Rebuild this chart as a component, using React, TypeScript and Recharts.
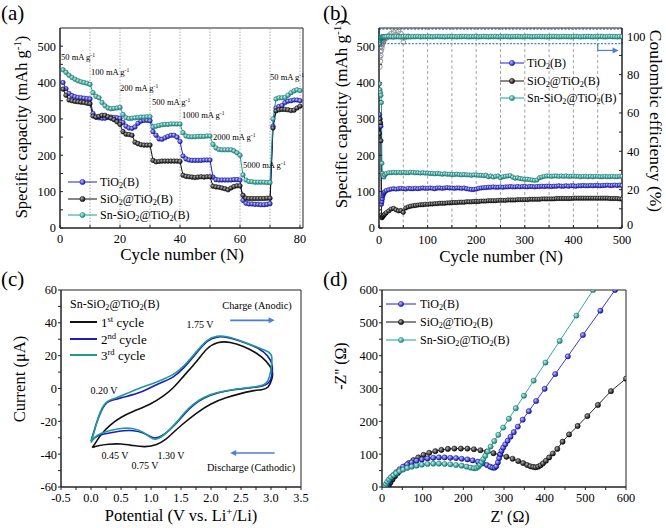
import React from "react";
import {
  LineChart,
  Line,
  XAxis,
  YAxis,
  ReferenceLine,
  ReferenceArea,
  ReferenceDot,
} from "recharts";

// ── shared look ────────────────────────────────────────────────────────────
const FONT = "Liberation Serif, DejaVu Serif, Noto Serif, serif";
const BLUE = "#1f22d2";
const BLACK = "#111111";
const TEAL = "#17a094";
const ARROW = "#4a7fd8";
const FRAME = "#222";

const tickStyle = { fontFamily: FONT, fontSize: 12.3, fill: "#000", style: { fontFamily: FONT } };
const axisLine = { stroke: FRAME, strokeWidth: 1 };
const tickLine = { stroke: FRAME, strokeWidth: 1 };

// ── (a) rate capability ────────────────────────────────────────────────────
const cyclesA = [
  1, 2, 3, 4, 5, 6, 7, 8, 9, 10, 11, 12, 13, 14, 15, 16, 17, 18, 19, 20,
  21, 22, 23, 24, 25, 26, 27, 28, 29, 30, 31, 32, 33, 34, 35, 36, 37, 38, 39, 40,
  41, 42, 43, 44, 45, 46, 47, 48, 49, 50, 51, 52, 53, 54, 55, 56, 57, 58, 59, 60,
  61, 62, 63, 64, 65, 66, 67, 68, 69, 70, 71, 72, 73, 74, 75, 76, 77, 78, 79, 80,
];
const tio2A = [
  400, 383, 370, 364, 361, 359, 358, 357, 356, 355,
  315, 305, 303, 302, 302, 304, 305, 304, 303, 302,
  290, 280, 275, 274, 278, 288, 294, 296, 296, 295,
  265, 255, 245, 244, 248, 252, 255, 255, 250, 238,
  198, 190, 187, 186, 186, 186, 186, 187, 187, 187,
  140, 133, 132, 132, 132, 132, 132, 133, 133, 132,
  76, 68, 66, 66, 65, 65, 64, 64, 65, 67,
  280, 330, 334, 337, 345, 349, 350, 352, 352, 350,
];
const sio2A = [
  382, 365, 352, 350, 348, 347, 346, 345, 343, 342,
  308, 305, 307, 310, 310, 306, 302, 298, 292, 285,
  265, 258, 257, 255, 236, 232, 229, 228, 228, 228,
  186, 182, 183, 184, 184, 184, 184, 184, 184, 183,
  145, 142, 141, 140, 139, 140, 141, 140, 141, 141,
  115, 113, 112, 110, 108, 105, 110, 114, 116, 116,
  90, 82, 81, 81, 81, 81, 81, 81, 82, 82,
  275, 322, 325, 326, 326, 325, 323, 324, 330, 335,
];
const snA = [
  435, 428, 420, 414, 409, 405, 402, 400, 398, 395,
  372, 362, 358, 345, 336, 330, 328, 329, 330, 332,
  312, 303, 301, 302, 303, 304, 305, 305, 306, 306,
  278, 280, 282, 284, 285, 285, 286, 286, 286, 286,
  262, 253, 251, 251, 251, 252, 252, 252, 253, 253,
  230, 220, 216, 215, 215, 215, 215, 212, 207, 200,
  146, 132, 128, 127, 126, 126, 126, 126, 125, 125,
  300, 355, 358, 358, 359, 365, 372, 377, 380, 378,
];
const rateSteps = [10, 20, 30, 40, 50, 60, 70, 80];
const rateLabels = [
  "50", "100", "200", "500", "1000", "2000", "5000", "50",
];

// ── (b) long cycling ───────────────────────────────────────────────────────
const cyclesB = [
  1, 2, 3, 4, 5, 6, 7, 8, 9, 10, 12, 15,
  20, 25, 30, 35, 40, 45, 50, 55, 60, 65, 70, 75, 80, 85, 90, 95, 100,
  105, 110, 115, 120, 125, 130, 135, 140, 145, 150,
  155, 160, 165, 170, 175, 180, 185, 190, 195, 200,
  205, 210, 215, 220, 225, 230, 235, 240, 245, 250,
  255, 260, 265, 270, 275, 280, 285, 290, 295, 300,
  305, 310, 315, 320, 325, 330, 335, 340, 345, 350,
  355, 360, 365, 370, 375, 380, 385, 390, 395, 400,
  405, 410, 415, 420, 425, 430, 435, 440, 445, 450,
  455, 460, 465, 470, 475, 480, 485, 490, 495, 500,
];
const tio2B = [
  312, 300, 285, 280, 65, 72, 80, 88, 93, 97, 100, 103,
  105, 107, 108, 107, 108, 109, 108, 107, 109, 108, 108, 109, 108, 109, 110, 109, 109,
  110, 109, 108, 110, 110, 109, 110, 111, 110, 110,
  109, 110, 110, 109, 110, 108, 107, 106, 106, 107,
  109, 110, 111, 111, 112, 112, 113, 112, 112, 113,
  112, 113, 113, 114, 113, 113, 114, 113, 114, 114,
  113, 114, 114, 113, 114, 114, 115, 114, 115, 115,
  114, 115, 115, 116, 115, 115, 116, 115, 116, 116,
  115, 116, 116, 117, 116, 116, 117, 116, 117, 117,
  116, 117, 117, 118, 117, 117, 118, 117, 118, 117,
];
const sio2B = [
  260, 300, 290, 240, 35, 28, 30, 32, 34, 36, 38, 42,
  47, 52, 54, 50, 47, 48, 43, 55, 58, 60, 61, 62, 63, 64, 64, 65, 65,
  66, 66, 67, 67, 68, 68, 68, 69, 69, 70,
  70, 70, 71, 71, 71, 72, 72, 72, 73, 73,
  73, 74, 74, 74, 75, 75, 75, 75, 76, 76,
  76, 76, 77, 77, 77, 77, 78, 78, 78, 78,
  78, 79, 79, 79, 79, 79, 80, 80, 80, 80,
  80, 80, 81, 81, 81, 81, 81, 81, 81, 82,
  82, 82, 82, 82, 82, 82, 82, 82, 82, 82,
  82, 82, 82, 82, 81, 81, 81, 81, 80, 80,
];
const snB = [
  397, 380, 372, 365, 345, 178, 150, 145, 142, 140, 146, 150,
  152, 152, 153, 152, 153, 152, 153, 152, 152, 153, 153, 152, 152, 151, 152, 151, 151,
  150, 150, 149, 150, 149, 148, 149, 148, 148, 147,
  147, 148, 147, 146, 147, 146, 146, 145, 146, 146,
  145, 145, 144, 145, 141, 143, 140, 142, 143, 138,
  141, 142, 143, 144, 140, 137, 138, 136, 135, 134,
  134, 133, 132, 131, 132, 138, 140, 142, 143, 143,
  142, 143, 143, 142, 143, 142, 143, 142, 142, 143,
  142, 142, 141, 142, 142, 141, 142, 141, 142, 142,
  141, 141, 142, 141, 141, 142, 141, 141, 142, 142,
];
// Coulombic efficiency (%)
const ceSnB = [
  96.5, 98.0, 98.8, 99.2, 99.4, 99.5, 99.6, 99.6, 99.7, 99.7, 99.8, 99.8,
  99.9, 99.8, 99.7, 99.9, 99.8, 99.7, 99.8, 99.9, 99.8, 99.7, 99.8, 99.8, 99.9, 99.7, 99.8, 99.8, 99.9,
  99.8, 99.7, 99.8, 99.9, 99.8, 99.8, 99.7, 99.8, 99.9, 99.8,
  99.8, 99.7, 99.8, 99.8, 99.9, 99.8, 99.7, 99.8, 99.8, 99.9,
  99.7, 99.8, 99.9, 99.8, 99.7, 99.8, 99.8, 99.9, 99.7, 99.8,
  99.8, 99.9, 99.8, 99.7, 99.8, 99.8, 99.9, 99.8, 99.7, 99.8,
  99.9, 99.8, 99.7, 99.8, 99.8, 99.9, 99.8, 99.8, 99.7, 99.8,
  99.8, 99.9, 99.8, 99.7, 99.8, 99.9, 99.8, 99.8, 99.7, 99.8,
  99.9, 99.8, 99.7, 99.8, 99.8, 99.9, 99.8, 99.7, 99.8, 99.8,
  99.9, 99.8, 99.7, 99.8, 99.9, 99.8, 99.8, 99.7, 99.8, 99.8,
];
// early cycles only (cycles 1 … 60 of cyclesB), hollow markers
const ceSiO2Early = [
  null, 84, 87, 90, 92.5, 94, 95.5, 96.5, 97, 97.5, 98.5, 99,
  100.5, 101.5, 102.3, 102.8, 102.5, 101.5, 97, 99.5, 100,
];
const ceTiO2Early = [
  null, 89, 92, 94.5, 96, 97, 97.8, 98.3, 98.7, 99, 99.3, 99.5,
  99.6, 99.7, 99.6, 99.7, 99.8, 99.7, 99.6, 99.7, 99.8,
];

// ── (c) cyclic voltammetry ─────────────────────────────────────────────────
const cv1V = [0.02, 0.08, 0.16, 0.32, 0.49, 0.71, 0.99, 1.21, 1.38, 1.54, 1.77, 1.93, 2.1, 2.32, 2.54, 2.76, 2.93, 3.04, 3.02, 2.96, 2.85, 2.7, 2.5, 2.25, 2.0, 1.75, 1.5, 1.35, 1.25, 1.1, 0.9, 0.7, 0.5, 0.3, 0.1, 0.02];
const cv1I = [-36, -33, -28, -22, -17.5, -13.8, -9.8, -4.7, 0.4, 7.5, 16.7, 24.8, 28.5, 28.5, 25.8, 21.8, 16.7, 10.6, 6, 0, -0.8, -1.2, -3, -5.5, -9, -15, -22.5, -27.5, -31, -34.5, -35.8, -34.8, -33.6, -33.8, -34.8, -36];
const cv2V = [0.0, 0.05, 0.1, 0.16, 0.22, 0.3, 0.41, 0.6, 0.82, 1.04, 1.2, 1.38, 1.54, 1.77, 1.93, 2.1, 2.27, 2.54, 2.82, 2.95, 3.03, 3.02, 2.98, 2.88, 2.65, 2.38, 2.1, 1.88, 1.71, 1.57, 1.43, 1.29, 1.18, 1.07, 0.99, 0.88, 0.71, 0.54, 0.38, 0.21, 0.1, 0.03, 0.0];
const cv2I = [-32, -26, -20, -14.5, -10, -7.5, -6.7, -4.7, -2.6, 1.5, 4, 6.9, 12, 22.2, 29.3, 31.8, 31.4, 28.3, 24.2, 20, 15, 8, 3.5, 1.4, 0.4, -0.6, -2.6, -5.7, -9.8, -14.8, -21, -26, -29.1, -30.5, -29.5, -27, -25.4, -25.6, -26.6, -27.7, -28.8, -31, -32];
const cv3V = [0.0, 0.05, 0.1, 0.16, 0.22, 0.3, 0.41, 0.6, 0.82, 1.04, 1.2, 1.38, 1.54, 1.77, 1.93, 2.1, 2.27, 2.54, 2.82, 2.95, 3.03, 3.0, 2.95, 2.88, 2.65, 2.38, 2.1, 1.88, 1.71, 1.57, 1.43, 1.29, 1.18, 1.07, 0.99, 0.88, 0.71, 0.54, 0.38, 0.21, 0.1, 0.03, 0.0];
const cv3I = [-33, -27, -20, -13.5, -9.5, -7, -6, -3, 0.5, 3, 5.5, 8.5, 13, 23, 30, 32.3, 31.8, 28.5, 24.5, 22.5, 21, 10, 4, 1.8, 0.5, -0.5, -2.3, -5.2, -9.2, -14, -20.5, -26, -29.5, -31.5, -30, -26.5, -24.2, -24, -25, -26.5, -28.5, -31, -33];

// ── (d) Nyquist plots ──────────────────────────────────────────────────────
const tiRe = [10, 13, 17, 22, 28, 35, 43, 52, 62, 73, 85, 98, 112, 126, 140, 154, 168, 182, 196, 210, 223, 236, 248, 258, 266, 272, 277, 281, 285, 288, 291, 294, 298, 303, 309, 316, 324, 334, 346, 361, 379, 400, 426, 457, 494, 537, 573];
const tiIm = [3, 10, 18, 27, 36, 45, 54, 62, 69, 75, 80, 84, 87, 89, 90, 90, 89, 88, 86, 84, 81, 77, 72, 67, 62, 59, 59, 63, 75, 88, 100, 110, 120, 130, 141, 153, 167, 184, 205, 231, 262, 299, 344, 398, 463, 537, 600];
const siRe = [14, 17, 21, 26, 32, 39, 47, 56, 66, 77, 89, 102, 116, 131, 146, 162, 178, 194, 210, 226, 242, 258, 274, 290, 306, 321, 335, 347, 357, 365, 372, 378, 384, 390, 396, 403, 411, 420, 431, 444, 460, 481, 505, 531, 563, 600];
const siIm = [0, 6, 14, 23, 33, 43, 53, 63, 73, 82, 90, 98, 104, 109, 113, 116, 117, 117, 117, 115, 112, 108, 103, 98, 92, 86, 79, 73, 67, 63, 61, 60, 62, 66, 72, 80, 90, 102, 116, 138, 160, 186, 216, 250, 292, 330];
const snRe = [8, 10, 13, 17, 22, 28, 35, 43, 52, 62, 73, 85, 98, 112, 126, 140, 154, 168, 182, 196, 208, 218, 226, 232, 237, 241, 245, 249, 254, 260, 267, 276, 286, 298, 312, 329, 349, 373, 402, 437, 478, 519];
const snIm = [3, 9, 16, 23, 30, 36, 42, 48, 53, 58, 62, 65, 68, 70, 71, 71, 70, 69, 67, 65, 62, 59, 57, 58, 62, 68, 76, 85, 95, 108, 123, 140, 159, 181, 208, 240, 278, 324, 379, 445, 522, 600];

// ── helpers ────────────────────────────────────────────────────────────────
const zip = (xs: number[], ys: number[]) => xs.map((x, i) => ({ x, y: ys[i] }));
const every = (step: number, dec = 0) => (v: number) =>
  Math.abs(v / step - Math.round(v / step)) < 1e-6 ? v.toFixed(dec) : "";

// inward ticks for the top row, outward for the bottom row (as in the figure)
const inX = { tickSize: -3, tickMargin: 9 };
const inY = { tickSize: -3, tickMargin: 7 };
const outX = { tickSize: 3, tickMargin: 3 };
const outY = { tickSize: 3, tickMargin: 1 };

// right-hand CE axis of (b): the "0" sits a little higher so it clears "500"
function CeTick(p: any) {
  const v = p.payload.value;
  const label = v % 20 === 0 ? String(v) : "";
  return (
    <text
      x={p.x}
      y={p.y - (v === 0 ? 3 : 0)}
      dy="0.355em"
      textAnchor="start"
      fontFamily={FONT}
      fontSize={12.3}
      fill="#000"
    >
      {label}
    </text>
  );
}

function BallDefs({ id }: { id: string }) {
  const g = (name: string, light: string, dark: string) => (
    <radialGradient id={`${id}-${name}`} cx="35%" cy="35%" r="70%">
      <stop offset="0%" stopColor={light} />
      <stop offset="100%" stopColor={dark} />
    </radialGradient>
  );
  return (
    <defs>
      {g("blue", "#c4c4ff", "#0a0aa8")}
      {g("black", "#b0b0b0", "#000000")}
      {g("teal", "#c4f1ec", "#0c7d74")}
    </defs>
  );
}

const ball = (id: string, name: string, edge: string, r: number) => ({
  r,
  fill: `url(#${id}-${name})`,
  stroke: edge,
  strokeWidth: 0.5,
});

function arrowHead(dir: number, color: string) {
  return (p: any) => (
    <polygon
      points={`${p.cx},${p.cy} ${p.cx - dir * 6},${p.cy - 3} ${p.cx - dir * 6},${p.cy + 3}`}
      fill={color}
    />
  );
}

function Txt({
  x, y, size, children, rotate = 0, anchor = "middle", color = "#000",
}: any) {
  const tx = anchor === "middle" ? "-50%" : anchor === "end" ? "-100%" : "0";
  return (
    <div
      style={{
        position: "absolute",
        left: x,
        top: y,
        fontFamily: FONT,
        fontSize: size,
        color,
        lineHeight: 1,
        whiteSpace: "nowrap",
        transform: `translate(${tx},-50%)${rotate ? ` rotate(${rotate}deg)` : ""}`,
      }}
    >
      {children}
    </div>
  );
}

const Sub = ({ children }: any) => (
  <span style={{ fontSize: "0.68em", verticalAlign: "-0.28em", lineHeight: 0 }}>{children}</span>
);
const Sup = ({ children }: any) => (
  <span style={{ fontSize: "0.66em", verticalAlign: "0.5em", lineHeight: 0 }}>{children}</span>
);
const TiO2 = () => <>TiO<Sub>2</Sub>(B)</>;
const SiO2 = () => <>SiO<Sub>2</Sub>@TiO<Sub>2</Sub>(B)</>;
const SnSiO2 = () => <>Sn-SiO<Sub>2</Sub>@TiO<Sub>2</Sub>(B)</>;

function LegendRow({ x1, x2, y, color, fill, textX, size, children, marker = true, lw = 1 }: any) {
  return (
    <>
      <svg
        style={{ position: "absolute", left: x1, top: y - 5, overflow: "visible" }}
        width={x2 - x1}
        height={10}
      >
        <line x1={0} y1={5} x2={x2 - x1} y2={5} stroke={color} strokeWidth={lw} />
        {marker && (
          <circle cx={(x2 - x1) / 2} cy={5} r={2.6} fill={fill} stroke={color} strokeWidth={0.6} />
        )}
      </svg>
      <Txt x={textX} y={y} size={size} anchor="start">{children}</Txt>
    </>
  );
}

// ── panels ─────────────────────────────────────────────────────────────────
function PanelA() {
  const rows = cyclesA.map((c, i) => ({ cycle: c, tio2: tio2A[i], sio2: sio2A[i], sn: snA[i] }));
  return (
    <div style={{ position: "absolute", left: 0, top: 0 }}>
      <LineChart width={333} height={264} data={rows} margin={{ top: 28, right: 30, bottom: 0, left: 0 }}>
        <BallDefs id="a" />
        <XAxis
          type="number" dataKey="cycle" domain={[0, 81]} allowDataOverflow
          ticks={[0, 10, 20, 30, 40, 50, 60, 70, 80]} tickFormatter={every(20)} interval={0}
          height={36} tick={tickStyle} axisLine={axisLine} tickLine={tickLine} {...inX}
        />
        <YAxis
          domain={[0, 550]} allowDataOverflow
          ticks={[0, 50, 100, 150, 200, 250, 300, 350, 400, 450, 500]} tickFormatter={every(100)} interval={0}
          width={60} tick={tickStyle} axisLine={axisLine} tickLine={tickLine} {...inY}
        />
        {rateSteps.map((s) => (
          <ReferenceLine key={s} x={s} stroke="#9a9a9a" strokeWidth={0.8} strokeDasharray="1.5 1.5" />
        ))}
        <Line dataKey="tio2" stroke={BLUE} strokeWidth={1} dot={ball("a", "blue", "#0a0a90", 2.3)} isAnimationActive={false} />
        <Line dataKey="sio2" stroke={BLACK} strokeWidth={1} dot={ball("a", "black", "#000", 2.3)} isAnimationActive={false} />
        <Line dataKey="sn" stroke={TEAL} strokeWidth={1} dot={ball("a", "teal", "#0c6f67", 2.3)} isAnimationActive={false} />
        <ReferenceArea x1={0} x2={81} y1={0} y2={550} fill="none" stroke={FRAME} strokeWidth={1} ifOverflow="visible" />
      </LineChart>
    </div>
  );
}

function PanelB() {
  const rows = cyclesB.map((c, i) => ({
    cycle: c,
    tio2: tio2B[i],
    sio2: sio2B[i],
    sn: snB[i],
    ceSn: ceSnB[i],
    ceSi: i < ceSiO2Early.length ? ceSiO2Early[i] : null,
    ceTi: i < ceTiO2Early.length ? ceTiO2Early[i] : null,
  }));
  return (
    <div style={{ position: "absolute", left: 333, top: 0 }}>
      <LineChart width={333} height={264} data={rows} margin={{ top: 28, right: 0, bottom: 0, left: 0 }}>
        <BallDefs id="b" />
        <XAxis
          type="number" dataKey="cycle" domain={[0, 500]} allowDataOverflow
          ticks={[0, 50, 100, 150, 200, 250, 300, 350, 400, 450, 500]} tickFormatter={every(100)} interval={0}
          height={36} tick={tickStyle} axisLine={axisLine} tickLine={tickLine} tickSize={-3} tickMargin={10}
        />
        <YAxis
          yAxisId="left" domain={[0, 550]} allowDataOverflow
          ticks={[0, 50, 100, 150, 200, 250, 300, 350, 400, 450, 500]} tickFormatter={every(100)} interval={0}
          width={46} tick={tickStyle} axisLine={axisLine} tickLine={tickLine} {...inY}
        />
        <YAxis
          yAxisId="right" orientation="right" domain={[0, 104.3]} allowDataOverflow
          ticks={[0, 10, 20, 30, 40, 50, 60, 70, 80, 90, 100]} interval={0}
          width={44} tick={<CeTick />} axisLine={axisLine} tickLine={tickLine} tickSize={-3} tickMargin={8}
        />
        {[50, 100, 150, 200, 250, 300, 350, 400, 450].map((s) => (
          <ReferenceLine key={s} yAxisId="left" x={s} stroke="#8a8a8a" strokeWidth={0.8} strokeDasharray="3 2.5" />
        ))}
        <Line yAxisId="left" dataKey="tio2" stroke={BLUE} strokeWidth={1} dot={ball("b", "blue", "#0a0a90", 2.2)} isAnimationActive={false} />
        <Line yAxisId="left" dataKey="sio2" stroke={BLACK} strokeWidth={1} dot={ball("b", "black", "#000", 2.2)} isAnimationActive={false} />
        <Line yAxisId="left" dataKey="sn" stroke={TEAL} strokeWidth={1} dot={ball("b", "teal", "#0c6f67", 2.2)} isAnimationActive={false} />
        <Line yAxisId="right" dataKey="ceTi" stroke="none" dot={{ r: 2.3, fill: "none", stroke: "#7070c8", strokeWidth: 0.7 }} isAnimationActive={false} />
        <Line yAxisId="right" dataKey="ceSi" stroke="none" dot={{ r: 2.3, fill: "none", stroke: "#777", strokeWidth: 0.7 }} isAnimationActive={false} />
        <Line yAxisId="right" dataKey="ceSn" stroke={TEAL} strokeWidth={1} dot={ball("b", "teal", "#0c6f67", 2.4)} isAnimationActive={false} />
        <ReferenceArea yAxisId="right" x1={0} x2={500} y1={96.2} y2={103.7} fill="none" stroke={ARROW} strokeWidth={1.2} strokeDasharray="2 1.5" ifOverflow="visible" />
        <ReferenceLine yAxisId="right" segment={[{ x: 450, y: 96.2 }, { x: 450, y: 92.6 }]} stroke={ARROW} strokeWidth={1.2} ifOverflow="visible" />
        <ReferenceLine yAxisId="right" segment={[{ x: 450, y: 92.6 }, { x: 490, y: 92.6 }]} stroke={ARROW} strokeWidth={1.2} ifOverflow="visible" />
        <ReferenceDot yAxisId="right" x={493} y={92.6} r={3} shape={arrowHead(1, ARROW)} ifOverflow="visible" />
        <ReferenceArea yAxisId="left" x1={0} x2={500} y1={0} y2={550} fill="none" stroke={FRAME} strokeWidth={1} ifOverflow="visible" />
      </LineChart>
    </div>
  );
}

function PanelC() {
  return (
    <div style={{ position: "absolute", left: 0, top: 264 }}>
      <LineChart width={333} height={264} margin={{ top: 26, right: 32, bottom: 0, left: 0 }}>
        <XAxis
          type="number" dataKey="x" domain={[-0.5, 3.5]} allowDataOverflow
          ticks={[-0.5, -0.25, 0, 0.25, 0.5, 0.75, 1, 1.25, 1.5, 1.75, 2, 2.25, 2.5, 2.75, 3, 3.25, 3.5]}
          tickFormatter={every(0.5, 1)} interval={0}
          height={41} tick={tickStyle} axisLine={axisLine} tickLine={tickLine} {...outX}
        />
        <YAxis
          type="number" domain={[-60, 60]} allowDataOverflow
          ticks={[-60, -50, -40, -30, -20, -10, 0, 10, 20, 30, 40, 50, 60]} tickFormatter={every(20)} interval={0}
          width={61} tick={tickStyle} axisLine={axisLine} tickLine={tickLine} {...outY}
        />
        <Line data={zip(cv1V, cv1I)} dataKey="y" type="basis" stroke={BLACK} strokeWidth={1.6} dot={false} isAnimationActive={false} />
        <Line data={zip(cv2V, cv2I)} dataKey="y" type="basis" stroke="#1c1cc4" strokeWidth={1.6} dot={false} isAnimationActive={false} />
        <Line data={zip(cv3V, cv3I)} dataKey="y" type="basis" stroke="#1f9c90" strokeWidth={1.6} dot={false} isAnimationActive={false} />
        <ReferenceLine segment={[{ x: 2.32, y: 41.5 }, { x: 2.98, y: 41.5 }]} stroke={ARROW} strokeWidth={1.6} ifOverflow="visible" />
        <ReferenceDot x={3.06} y={41.5} r={3} shape={arrowHead(1, ARROW)} ifOverflow="visible" />
        <ReferenceLine segment={[{ x: 2.4, y: -39.3 }, { x: 3.06, y: -39.3 }]} stroke={ARROW} strokeWidth={1.6} ifOverflow="visible" />
        <ReferenceDot x={2.32} y={-39.3} r={3} shape={arrowHead(-1, ARROW)} ifOverflow="visible" />
        <ReferenceArea x1={-0.5} x2={3.5} y1={-60} y2={60} fill="none" stroke={FRAME} strokeWidth={1} ifOverflow="visible" />
      </LineChart>
    </div>
  );
}

function PanelD() {
  return (
    <div style={{ position: "absolute", left: 333, top: 264 }}>
      <LineChart width={333} height={264} margin={{ top: 26, right: 40, bottom: 0, left: 0 }}>
        <BallDefs id="d" />
        <XAxis
          type="number" dataKey="x" domain={[0, 600]} allowDataOverflow
          ticks={[0, 50, 100, 150, 200, 250, 300, 350, 400, 450, 500, 550, 600]} tickFormatter={every(100)} interval={0}
          height={41} tick={tickStyle} axisLine={axisLine} tickLine={tickLine} {...outX}
        />
        <YAxis
          type="number" domain={[0, 600]} allowDataOverflow
          ticks={[0, 50, 100, 150, 200, 250, 300, 350, 400, 450, 500, 550, 600]} tickFormatter={every(100)} interval={0}
          width={49} tick={tickStyle} axisLine={axisLine} tickLine={tickLine} {...outY}
        />
        <Line data={zip(siRe, siIm)} dataKey="y" stroke={BLACK} strokeWidth={0.9} dot={ball("d", "black", "#000", 2.6)} isAnimationActive={false} />
        <Line data={zip(tiRe, tiIm)} dataKey="y" stroke={BLUE} strokeWidth={0.9} dot={ball("d", "blue", "#0a0a90", 2.6)} isAnimationActive={false} />
        <Line data={zip(snRe, snIm)} dataKey="y" stroke={TEAL} strokeWidth={0.9} dot={ball("d", "teal", "#0c6f67", 2.6)} isAnimationActive={false} />
        <ReferenceArea x1={0} x2={600} y1={0} y2={600} fill="none" stroke={FRAME} strokeWidth={1} ifOverflow="visible" />
      </LineChart>
    </div>
  );
}

export default function App() {
  const gmA = (v: string) => <>{v} mA g<Sup>-1</Sup></>;
  const rateXY = [
    [61, 57], [91, 72], [120, 88], [152, 102], [182, 115], [213, 137], [243, 165], [270, 77],
  ];
  return (
    <div style={{ position: "absolute", left: 0, top: 0, width: 666, height: 528, background: "#fff", overflow: "hidden", fontFamily: FONT }}>
      <PanelA />
      <PanelB />
      <PanelC />
      <PanelD />

      {/* (a) */}
      <Txt x={1} y={13} size={21} anchor="start">(a)</Txt>
      <Txt x={22} y={127} size={16.5} rotate={-90}>Specific capacity (mAh g<Sup>-1</Sup>)</Txt>
      <Txt x={182} y={254} size={17}>Cycle number (N)</Txt>
      {rateLabels.map((l, i) => (
        <Txt key={i} x={rateXY[i][0]} y={rateXY[i][1]} size={8.5} anchor="start">{gmA(l)}</Txt>
      ))}
      <LegendRow x1={68} x2={97} y={182} color={BLUE} fill="url(#a-blue)" textX={100} size={12}><TiO2 /></LegendRow>
      <LegendRow x1={68} x2={97} y={199} color={BLACK} fill="url(#a-black)" textX={100} size={12}><SiO2 /></LegendRow>
      <LegendRow x1={68} x2={97} y={215} color={TEAL} fill="url(#a-teal)" textX={100} size={12}><SnSiO2 /></LegendRow>

      {/* (b) */}
      <Txt x={323} y={13} size={21} anchor="start">(b)</Txt>
      <Txt x={341} y={114} size={17} rotate={-90}>Specific capacity (mAh g<Sup>-1</Sup>)</Txt>
      <Txt x={655} y={121} size={17.5} rotate={90}>Coulombic efficiency (%)</Txt>
      <Txt x={501} y={256} size={17}>Cycle number (N)</Txt>
      <LegendRow x1={500} x2={524} y={63} color={BLUE} fill="url(#b-blue)" textX={527} size={12}><TiO2 /></LegendRow>
      <LegendRow x1={500} x2={524} y={81} color={BLACK} fill="url(#b-black)" textX={527} size={12}><SiO2 /></LegendRow>
      <LegendRow x1={500} x2={524} y={98} color={TEAL} fill="url(#b-teal)" textX={527} size={12}><SnSiO2 /></LegendRow>

      {/* (c) */}
      <Txt x={1} y={279} size={21} anchor="start">(c)</Txt>
      <Txt x={20} y={379} size={16.5} rotate={-90}>Current (μA)</Txt>
      <Txt x={181} y={516} size={16.5}>Potential (V vs. Li<Sup>+</Sup>/Li)</Txt>
      <Txt x={70} y={304} size={12} anchor="start"><SnSiO2 /></Txt>
      <LegendRow x1={70} x2={97} y={322} color={BLACK} marker={false} lw={2} textX={101} size={13}>1<Sup>st</Sup> cycle</LegendRow>
      <LegendRow x1={70} x2={97} y={339} color="#1c1cc4" marker={false} lw={2} textX={101} size={13}>2<Sup>nd</Sup> cycle</LegendRow>
      <LegendRow x1={70} x2={97} y={355} color="#1f9c90" marker={false} lw={2} textX={101} size={13}>3<Sup>rd</Sup> cycle</LegendRow>
      <Txt x={200} y={325} size={10}>1.75 V</Txt>
      <Txt x={104} y={391} size={10}>0.20 V</Txt>
      <Txt x={115} y={456} size={10}>0.45 V</Txt>
      <Txt x={145} y={466} size={10}>0.75 V</Txt>
      <Txt x={171} y={456} size={10}>1.30 V</Txt>
      <Txt x={257} y={306} size={10.3}>Charge (Anodic)</Txt>
      <Txt x={251} y={468} size={10.3}>Discharge (Cathodic)</Txt>

      {/* (d) */}
      <Txt x={323} y={279} size={21} anchor="start">(d)</Txt>
      <Txt x={341} y={366} size={16} rotate={-90}>-Z'' (Ω)</Txt>
      <Txt x={510} y={517} size={16}>Z' (Ω)</Txt>
      <LegendRow x1={386} x2={416} y={304} color={BLUE} fill="url(#d-blue)" textX={420} size={12}><TiO2 /></LegendRow>
      <LegendRow x1={386} x2={416} y={322} color={BLACK} fill="url(#d-black)" textX={420} size={12}><SiO2 /></LegendRow>
      <LegendRow x1={386} x2={416} y={340} color={TEAL} fill="url(#d-teal)" textX={420} size={12}><SnSiO2 /></LegendRow>
    </div>
  );
}
